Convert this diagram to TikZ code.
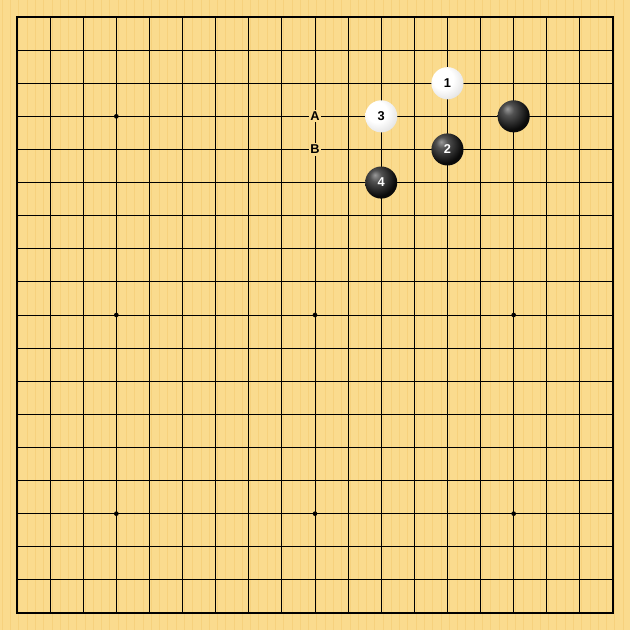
\documentclass[tikz,border=0pt]{standalone}
\usepackage{fontspec}
\setsansfont{Liberation Sans}
\usetikzlibrary{positioning}
\definecolor{board}{RGB}{250,219,142}
\definecolor{grain}{RGB}{243,200,110}
\pgfdeclareradialshading{whiteball}{\pgfpoint{-9bp}{9bp}}{color(0bp)=(white); color(16bp)=(white); color(42bp)=(black!18); color(55bp)=(black!32); color(65bp)=(black!40)}
\pgfdeclareradialshading{blackball}{\pgfpoint{-10bp}{12bp}}{color(0bp)=(black!40); color(9bp)=(black!68); color(28bp)=(black!96); color(65bp)=(black)}

\begin{document}
\begin{tikzpicture}[
        y=-1cm,
        gridline/.style={black, line width=0.8pt},
        border/.style={black, line width=1.6pt},
        hoshi/.style={circle, fill=black, inner sep=0pt, minimum size=4pt},
        stone/.style={circle, shade, minimum size=0.97cm, inner sep=0pt, font=\sffamily\bfseries\fontsize{11}{13}\selectfont},
        blackstone/.style={stone, shading=blackball, text=white},
        whitestone/.style={stone, shading=whiteball, text=black},
        letter/.style={fill=board, inner sep=1.5pt, text=black, font=\sffamily\bfseries\fontsize{11}{13}\selectfont}
    ]
        % Board
        \fill[board] (-0.513,-0.513) rectangle (18.513,18.513);
        \useasboundingbox (-0.513,-0.513) rectangle (18.513,18.513);
        \foreach \x in {-0.45,-0.2,...,18.5}
            \draw[grain, line width=0.4pt, opacity=0.5] (\x,-0.513) -- (\x,18.513);
        
        % Grid
        \foreach \i in {1,...,17} {
            \draw[gridline] (\i,0) -- (\i,18);
            \draw[gridline] (0,\i) -- (18,\i);
        }
        \draw[border] (0,0) rectangle (18,18);
        \foreach \x in {3,9,15}
            \foreach \y in {3,9,15}
                \node[hoshi] at (\x,\y) {};
        
        % Stones
        \node (w1) [whitestone] at (13,2) {1};
        \node (b2) [blackstone] at (13,4) {2};
        \node (w3) [whitestone] at (11,3) {3};
        \node (b4) [blackstone] at (11,5) {4};
        \node (b0) [blackstone] at (15,3) {};
        
        % Letters
        \node (markA) [letter] at (9,3) {A};
        \node (markB) [letter] at (9,4) {B};
    \end{tikzpicture}
\end{document}
